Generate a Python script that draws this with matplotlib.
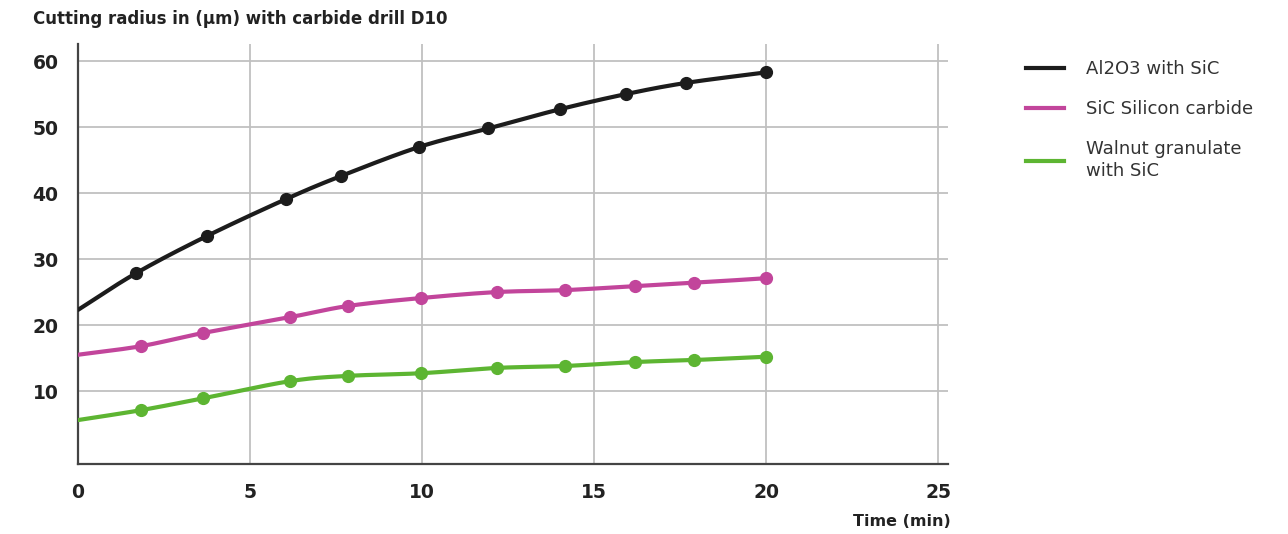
import numpy as np
import matplotlib
matplotlib.use("Agg")
import matplotlib.pyplot as plt
from matplotlib.lines import Line2D

# Values (first point at t=0 has no marker)
time_min = [0, 1.7, 3.75, 6.05, 7.65, 9.92, 11.93, 14.0, 15.92, 17.67, 20.0]
time_min_b = [0, 1.83, 3.64, 6.17, 7.86, 9.98, 12.17, 14.17, 16.2, 17.9, 20.0]
al2o3 = [22.3, 27.9, 33.5, 39.1, 42.6, 47.0, 49.8, 52.7, 55.0, 56.7, 58.3]
sic = [15.5, 16.8, 18.8, 21.2, 22.9, 24.1, 25.0, 25.3, 25.9, 26.4, 27.1]
walnut = [5.6, 7.1, 8.9, 11.5, 12.3, 12.7, 13.5, 13.8, 14.4, 14.7, 15.2]

labels = ["Al2O3 with SiC", "SiC Silicon carbide", "Walnut granulate\nwith SiC"]
colors = ["#1c1c1c", "#c2459b", "#5db532"]

xticks = [0, 5, 10, 15, 20, 25]
yticks = [10, 20, 30, 40, 50, 60]


def smooth(x, y, n=20):
    # Catmull-Rom curve through the points, just for drawing the line
    x = np.asarray(x, float)
    y = np.asarray(y, float)
    px = np.concatenate([[2 * x[0] - x[1]], x, [2 * x[-1] - x[-2]]])
    py = np.concatenate([[2 * y[0] - y[1]], y, [2 * y[-1] - y[-2]]])
    t = np.linspace(0, 1, n, endpoint=False)
    xs, ys = [], []
    for i in range(1, len(px) - 2):
        for p, out in ((px, xs), (py, ys)):
            p0, p1, p2, p3 = p[i - 1], p[i], p[i + 1], p[i + 2]
            out.extend(0.5 * (2 * p1 + (-p0 + p2) * t
                              + (2 * p0 - 5 * p1 + 4 * p2 - p3) * t ** 2
                              + (-p0 + 3 * p1 - 3 * p2 + p3) * t ** 3))
    xs.append(x[-1])
    ys.append(y[-1])
    return np.array(xs), np.array(ys)


plt.rcParams["font.family"] = ["DejaVu Sans"]
fig = plt.figure(figsize=(12.88, 5.34), dpi=100)
ax = fig.add_axes([78 / 1288, 70 / 534, 870 / 1288, 420 / 534])

series = [(time_min, al2o3), (time_min_b, sic), (time_min_b, walnut)]
for (xs, ys), c in zip(series, colors):
    sx, sy = smooth(xs, ys)
    ax.plot(sx, sy, color=c, lw=3.0, solid_capstyle="round", zorder=3)
    ax.plot(xs[1:], ys[1:], "o", color=c, ms=8.5, zorder=4)

ax.set_xlim(0, 25.29)
ax.set_ylim(-1.06, 62.6)
ax.set_xticks(xticks)
ax.set_yticks(yticks)
ax.grid(True, color="#c0c0c0", lw=1.3)
ax.set_axisbelow(True)
for s in ["top", "right"]:
    ax.spines[s].set_visible(False)
for s in ["left", "bottom"]:
    ax.spines[s].set_color("#444444")
    ax.spines[s].set_linewidth(1.6)
ax.tick_params(length=0, labelsize=13.5, colors="#222222")
ax.tick_params(axis="x", pad=14)
ax.tick_params(axis="y", pad=14)
for lab in ax.get_xticklabels() + ax.get_yticklabels():
    lab.set_fontweight("bold")

fig.text(33 / 1288, 1 - 19 / 534, "Cutting radius in (\u00b5m) with carbide drill D10",
         fontsize=12, fontweight="bold", color="#222222", va="center")
fig.text(951 / 1288, 1 - 521 / 534, "Time (min)", fontsize=11.5, fontweight="bold",
         color="#222222", ha="right", va="center")

handles = [Line2D([0], [0], color=c, lw=3) for c in colors]
leg = fig.legend(handles, labels, loc="upper left", bbox_to_anchor=(1010 / 1288, 1 - 44 / 534),
                 frameon=False, fontsize=13, handlelength=2.1, handletextpad=1.2,
                 labelspacing=1.2, labelcolor="#333333")
for t in leg.get_texts():
    t.set_linespacing(1.35)

fig.savefig("out.png", dpi=100)
